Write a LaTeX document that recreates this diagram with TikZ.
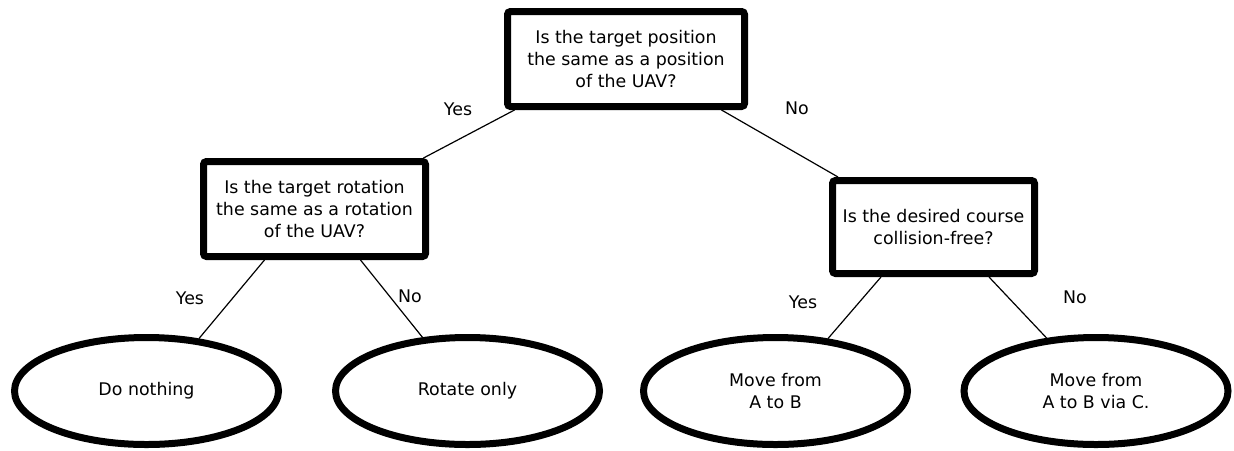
\documentclass[tikz,border=0pt]{standalone}
\usepackage{fontspec}
\setmainfont{DejaVu Sans}
\usepackage{tikz}
\usetikzlibrary{shapes.geometric}

\tikzset{
    question/.style={rectangle, draw, line width=3.5pt, rounded corners=1.5pt, inner sep=0pt, align=center},
    outcome/.style={ellipse, draw, line width=3.5pt, inner sep=0pt, minimum width=132pt, minimum height=53.5pt, align=center},
    answer/.style={inner sep=0pt},
    edge/.style={line width=0.6pt}
}

\begin{document}
\begin{tikzpicture}[x=0.5pt, y=-0.5pt, font=\fontsize{8.7}{11}\selectfont]
            \useasboundingbox (0, 0) rectangle (1234, 450);

            \node[question, minimum width=118.5pt, minimum height=47.5pt] at (626, 59) (pos) {Is the target position\\the same as a position\\of the UAV?};
            \node[question, minimum width=111pt, minimum height=47.5pt] at (314.5, 209) (rot) {Is the target rotation\\the same as a rotation\\of the UAV?};
            \node[question, minimum width=101pt, minimum height=46.5pt] at (933.5, 227) (free) {Is the desired course\\collision-free?};

            \node[outcome] at (146.5, 391) (nothing) {Do nothing};
            \node[outcome] at (467.5, 391) (rotonly) {Rotate only};
            \node[outcome] at (775.5, 391) (move) {Move from\\A to B};
            \node[outcome] at (1096, 391) (via) {Move from\\A to B via C.};

            \draw[edge] ([xshift=5.25pt]pos.south west) -- ([xshift=-2.75pt]rot.north east);
            \draw[edge] ([xshift=-13.25pt]pos.south east) -- ([xshift=4.5pt]free.north west);
            \draw[edge] ([xshift=32.25pt]rot.south west) -- (nothing.45);
            \draw[edge] ([xshift=-34.25pt]rot.south east) -- (rotonly.130);
            \draw[edge] ([xshift=26pt]free.south west) -- (move.45);
            \draw[edge] ([xshift=-24.5pt]free.south east) -- (via.133);

            \node[answer] at (458, 109) (yes1) {Yes};
            \node[answer] at (797, 108) (no1) {No};
            \node[answer] at (190, 298) (yes2) {Yes};
            \node[answer] at (410, 296) (no2) {No};
            \node[answer] at (803, 302) (yes3) {Yes};
            \node[answer] at (1075, 297) (no3) {No};
        \end{tikzpicture}
\end{document}
